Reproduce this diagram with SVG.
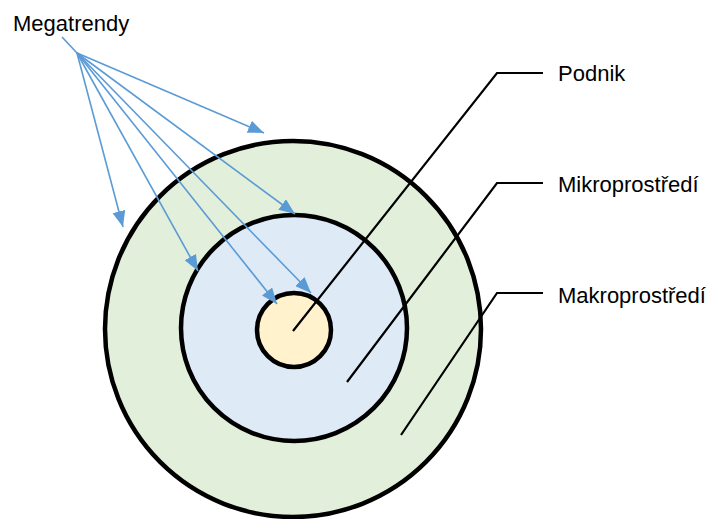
<svg xmlns="http://www.w3.org/2000/svg" width="712" height="519" viewBox="0 0 712 519">
<defs>
<marker id="ah" viewBox="0 0 16 13" refX="16" refY="6.5" markerWidth="16" markerHeight="13" markerUnits="userSpaceOnUse" orient="auto">
<path d="M0,0 L16,6.5 L0,13 z" fill="#5B9BD5"/>
</marker>
<style>
.ring{stroke:#000;stroke-width:4.5}
.lbl{font-family:"Liberation Sans",Arial,sans-serif;font-size:22px;fill:#000}
.arr{stroke:#5B9BD5;stroke-width:1.6;fill:none;marker-end:url(#ah)}
.lead{stroke:#000;stroke-width:2.2;fill:none}
</style>
</defs>
<rect width="712" height="519" fill="#fff"/>
<g id="makro"><circle class="ring" cx="293" cy="329" r="188" fill="#E2EFDA"/></g>
<g id="mikro"><circle class="ring" cx="294" cy="328" r="113" fill="#DEEBF7"/></g>
<g id="podnik"><circle class="ring" cx="294" cy="330" r="37" fill="#FFF2CC"/></g>
<g id="megatrendy"><text class="lbl" x="13" y="31">Megatrendy</text></g>
<g id="connectors">
<path d="M62,37 L77,53" stroke="#5B9BD5" stroke-width="1.6"/>
<path class="arr" d="M77,53 L264,133"/>
<path class="arr" d="M77,53 L123,227"/>
<path class="arr" d="M77,53 L295,214"/>
<path class="arr" d="M77,53 L198,271"/>
<path class="arr" d="M77,53 L277,304"/>
<path class="arr" d="M77,53 L311,293"/>
<path class="lead" d="M543,73 L497,73 L293,331"/>
<path class="lead" d="M543,183 L497,183 L347,382"/>
<path class="lead" d="M543,293 L497,293 L401,435"/>
</g>
<g id="labels">
<text class="lbl" x="558" y="81">Podnik</text>
<text class="lbl" x="558" y="192">Mikroprostředí</text>
<text class="lbl" x="558" y="303">Makroprostředí</text>
</g>
</svg>
